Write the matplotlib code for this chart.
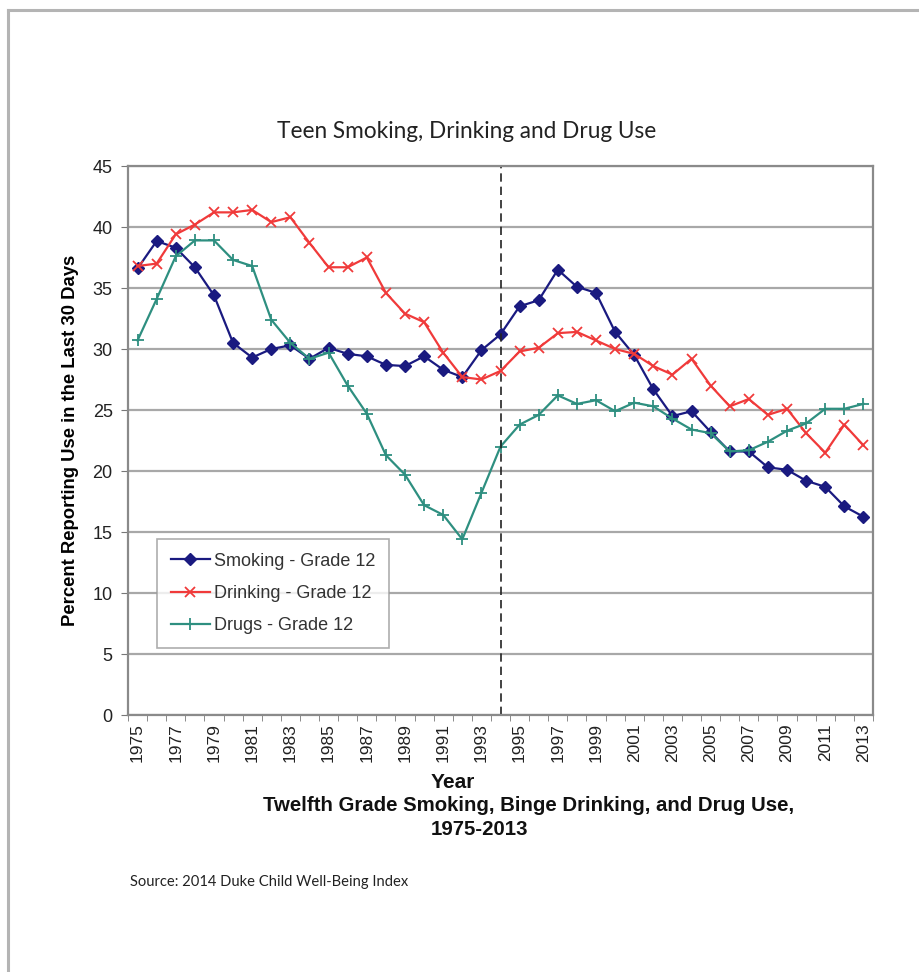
import numpy as np
import matplotlib
matplotlib.use("Agg")
import matplotlib.pyplot as plt
from matplotlib.lines import Line2D

years = list(range(1975, 2014))
smoking = [36.6, 38.85, 38.3, 36.7, 34.4, 30.5, 29.3, 30.0, 30.3, 29.2,
           30.1, 29.6, 29.4, 28.7, 28.6, 29.4, 28.3, 27.7, 29.9, 31.2,
           33.5, 34.0, 36.5, 35.1, 34.6, 31.4, 29.5, 26.7, 24.5, 24.9,
           23.2, 21.6, 21.6, 20.3, 20.1, 19.2, 18.7, 17.1, 16.25]
drinking = [36.8, 37.0, 39.4, 40.2, 41.2, 41.2, 41.4, 40.4, 40.8, 38.7,
            36.7, 36.7, 37.5, 34.6, 32.9, 32.2, 29.7, 27.7, 27.5, 28.2,
            29.8, 30.1, 31.3, 31.4, 30.7, 30.0, 29.6, 28.6, 27.9, 29.2,
            27.0, 25.3, 25.9, 24.6, 25.1, 23.1, 21.5, 23.8, 22.1]
drugs = [30.7, 34.1, 37.6, 38.9, 38.9, 37.3, 36.8, 32.4, 30.5, 29.2,
         29.7, 27.0, 24.7, 21.3, 19.7, 17.2, 16.4, 14.4, 18.2, 22.0,
         23.8, 24.6, 26.2, 25.5, 25.8, 24.9, 25.6, 25.3, 24.3, 23.4,
         23.1, 21.6, 21.7, 22.4, 23.3, 23.9, 25.1, 25.1, 25.5]
labels = ["Smoking - Grade 12", "Drinking - Grade 12", "Drugs - Grade 12"]
marker_year = 1994

W, H = 920, 972
fig = plt.figure(figsize=(W / 100, H / 100), dpi=100)
fig.patch.set_facecolor("white")

# outer frame (left and top edges only)
fig.add_artist(Line2D([8 / W, 8 / W], [0, 1 - 10 / H], transform=fig.transFigure,
                      color="#b4b4b4", lw=2.2))
fig.add_artist(Line2D([8 / W, 1], [1 - 10 / H, 1 - 10 / H], transform=fig.transFigure,
                      color="#b4b4b4", lw=2.2))

ax = fig.add_axes([128 / W, 1 - 715 / H, 745 / W, 549 / H])
ax.set_xlim(years[0] - 0.5, years[-1] + 0.5)
ax.set_ylim(0, 45)

ax.set_yticks(np.arange(0, 46, 5))
ax.yaxis.grid(True, color="#a8a8a8", lw=1.6)
ax.set_axisbelow(True)

ax.plot(years, smoking, color="#1a1a80", marker="D", ms=6, lw=1.6, label=labels[0])
ax.plot(years, drinking, color="#f03a3a", marker="x", ms=7, mew=1.3, lw=1.6, label=labels[1])
ax.plot(years, drugs, color="#2e8f80", marker="+", ms=9, mew=1.3, lw=1.6, label=labels[2])

ax.axvline(marker_year, color="#222222", lw=1.2, ls=(0, (5, 3)))

ax.set_xticks(years[::2])
ax.set_xticklabels([str(y) for y in years[::2]], rotation=90,
                   fontsize=12.5, family="Liberation Sans", color="#222222")
ax.set_xticks(np.arange(years[0] - 0.5, years[-1] + 1, 1), minor=True)
ax.tick_params(axis="x", which="major", length=0, pad=6)
ax.tick_params(axis="x", which="minor", length=4, direction="out", color="#777777")
ax.tick_params(axis="y", length=5, direction="out", color="#777777", pad=6)
for t in ax.get_yticklabels():
    t.set_fontsize(13)
    t.set_family("Liberation Sans")
    t.set_color("#222222")

for s in ax.spines.values():
    s.set_color("#8a8a8a")
    s.set_linewidth(1.6)

ax.set_ylabel("Percent Reporting Use in the Last 30 Days", fontsize=13.3,
              fontweight="bold", family="Liberation Sans", labelpad=10)

leg = ax.legend(loc="lower left", bbox_to_anchor=(0.039, 0.122), borderaxespad=0,
                frameon=True, fancybox=False, handlelength=2.2, handletextpad=0.2,
                labelspacing=0.85, borderpad=0.75,
                prop={"family": "Liberation Sans", "size": 13})
leg.get_frame().set_edgecolor("#999999")
leg.get_frame().set_linewidth(1.2)
for t in leg.get_texts():
    t.set_color("#333333")

fig.text(467 / W, 1 - 132 / H, "Teen Smoking, Drinking and Drug Use", ha="center",
         va="center", fontsize=16.3, family="Lato", color="#222222")
fig.text(453 / W, 1 - 782 / H, "Year", ha="center", va="center", fontsize=15,
         fontweight="bold", family="Liberation Sans", color="#111111")
fig.text(529 / W, 1 - 805 / H, "Twelfth Grade Smoking, Binge Drinking, and Drug Use,",
         ha="center", va="center", fontsize=14.7, fontweight="bold",
         family="Liberation Sans", color="#111111")
fig.text(480 / W, 1 - 829 / H, "1975-2013", ha="center", va="center", fontsize=14.7,
         fontweight="bold", family="Liberation Sans", color="#111111")
fig.text(130 / W, 1 - 882 / H, "Source: 2014 Duke Child Well-Being Index", ha="left",
         va="center", fontsize=10.6, family="Lato", color="#222222")

fig.savefig("out.png", dpi=100, facecolor="white")
plt.close(fig)
